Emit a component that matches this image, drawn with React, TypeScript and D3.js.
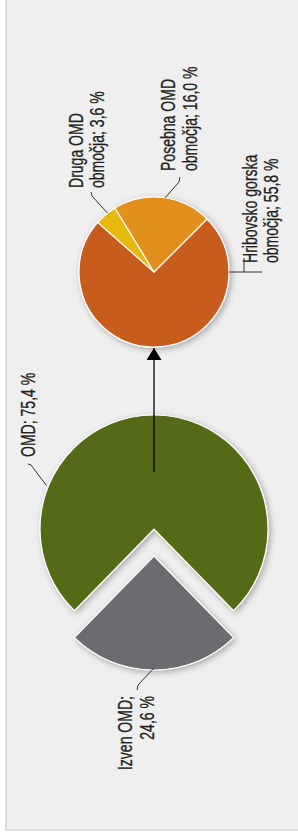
import React from "react";
import * as d3 from "d3";

// main split
const mainNames = ["OMD", "Izven OMD"];
const mainValues = [75.4, 24.6];
const mainColors = ["#556b12", "#6b6c70"];

// breakdown of OMD
const subNames = ["Hribovsko gorska", "Druga OMD", "Posebna OMD"];
const subValues = [55.8, 3.6, 16.0];
const subColors = ["#c85b1b", "#e8b90e", "#e2901d"];

const fmt = (v: number) => v.toFixed(1).replace(".", ",") + " %";

const W = 298;
const H = 835;

const big = { cx: 154, cy: 529, r: 114, explode: 27 };
const small = { cx: 154, cy: 272, r: 75 };

const FONT = "'Liberation Sans', Arial, sans-serif";
const FS = 19.5;
const SQ = 0.72; // condensed look

const pt = (cx: number, cy: number, r: number, a: number): [number, number] => [
  cx + Math.sin(a) * r,
  cy - Math.cos(a) * r,
];

function RotLabel({ x, y, lines, anchor = "start", gap = 21 }: any) {
  return (
    <g>
      {lines.map((t: string, i: number) => (
        <text
          key={i}
          transform={`translate(${x + i * gap},${y}) rotate(-90) scale(${SQ},1)`}
          textAnchor={anchor}
          fontFamily={FONT}
          fontSize={FS}
          fill="#231f20"
          stroke="#231f20"
          strokeWidth={0.3}
        >
          {t}
        </text>
      ))}
    </g>
  );
}

export default function App() {
  const mainTotal = d3.sum(mainValues);
  const a0 = (2 * Math.PI * mainValues[0]) / mainTotal;
  const mainArcs = d3
    .pie<number>()
    .sort(null)
    .startAngle(-a0 / 2)
    .endAngle(-a0 / 2 + 2 * Math.PI)(mainValues);
  const subArcs = d3
    .pie<number>()
    .sort(null)
    .startAngle(Math.PI / 4)
    .endAngle(Math.PI / 4 + 2 * Math.PI)(subValues);

  const bigArc = d3.arc<any>().innerRadius(0).outerRadius(big.r);
  const smallArc = d3.arc<any>().innerRadius(0).outerRadius(small.r);

  const izMid = (mainArcs[1].startAngle + mainArcs[1].endAngle) / 2;
  const ex = Math.sin(izMid) * big.explode;
  const ey = -Math.cos(izMid) * big.explode;

  const line = d3.line();

  // leader lines
  const omdP = pt(big.cx, big.cy, big.r + 2, (-68 * Math.PI) / 180);
  const izP = pt(big.cx + ex, big.cy + ey, big.r - 2, izMid);
  const midA = (d: any) => (d.startAngle + d.endAngle) / 2;
  const drP = pt(small.cx, small.cy, small.r, midA(subArcs[1]) + 0.03);
  const poP = pt(small.cx, small.cy, small.r, midA(subArcs[2]) + 0.03);
  const hrP = pt(small.cx, small.cy, small.r, Math.PI / 2);

  const leaders: [number, number][][] = [
    [omdP, [31, 465], [28, 464]],
    [izP, [138, 685], [137, 690]],
    [drP, [92, 196], [91, 192]],
    [poP, [179, 182], [180, 177]],
    [hrP, [262, hrP[1]]],
    [[244, hrP[1]], [244, 258]],
  ];

  const arrowTop = small.cy + small.r + 1;

  return (
    <svg
      width={W}
      height={H}
      style={{ position: "absolute", left: 0, top: 0, background: "#fff" }}
    >
      <defs>
        <filter id="sh" x="-30%" y="-30%" width="160%" height="160%">
          <feDropShadow dx="2" dy="2" stdDeviation="3" floodColor="#000" floodOpacity="0.3" />
        </filter>
        <marker
          id="ah"
          viewBox="0 0 10 10"
          refX="10"
          refY="5"
          markerWidth="12"
          markerHeight="15"
          markerUnits="userSpaceOnUse"
          orient="auto"
          preserveAspectRatio="none"
        >
          <path d="M0,0L10,5L0,10Z" fill="#000" />
        </marker>
      </defs>
      <rect x={6} y={-2} width={W} height={832} fill="#efefef" stroke="#dcdcdc" strokeWidth={2} />

      <g filter="url(#sh)">
        <path
          d={bigArc(mainArcs[0]) || ""}
          transform={`translate(${big.cx},${big.cy})`}
          fill={mainColors[0]}
          stroke="#fff"
          strokeWidth={1.2}
        />
      </g>
      <g filter="url(#sh)">
        <path
          d={bigArc(mainArcs[1]) || ""}
          transform={`translate(${big.cx + ex},${big.cy + ey})`}
          fill={mainColors[1]}
          stroke="#fff"
          strokeWidth={1.2}
        />
      </g>

      <g filter="url(#sh)" transform={`translate(${small.cx},${small.cy})`}>
        {subArcs.map((d, i) => (
          <path key={i} d={smallArc(d) || ""} fill={subColors[i]} stroke="#fff" strokeWidth={1.2} />
        ))}
      </g>

      <line
        x1={big.cx}
        y1={big.cy - big.r / 2}
        x2={small.cx}
        y2={arrowTop}
        stroke="#000"
        strokeWidth={1.3}
        markerEnd="url(#ah)"
      />

      {leaders.map((p, i) => (
        <path key={i} d={line(p) || ""} fill="none" stroke="#333" strokeWidth={1} />
      ))}

      <RotLabel x={35} y={457} lines={[`${mainNames[0]}; ${fmt(mainValues[0])}`]} />
      <RotLabel x={132} y={696} anchor="end" gap={22} lines={[`${mainNames[1]};`, fmt(mainValues[1])]} />
      <RotLabel x={83} y={188} lines={[subNames[1], `območja; ${fmt(subValues[1])}`]} />
      <RotLabel x={175} y={171} gap={22} lines={[subNames[2], `območja; ${fmt(subValues[2])}`]} />
      <RotLabel x={257} y={263} lines={[subNames[0], `območja; ${fmt(subValues[0])}`]} />
    </svg>
  );
}
